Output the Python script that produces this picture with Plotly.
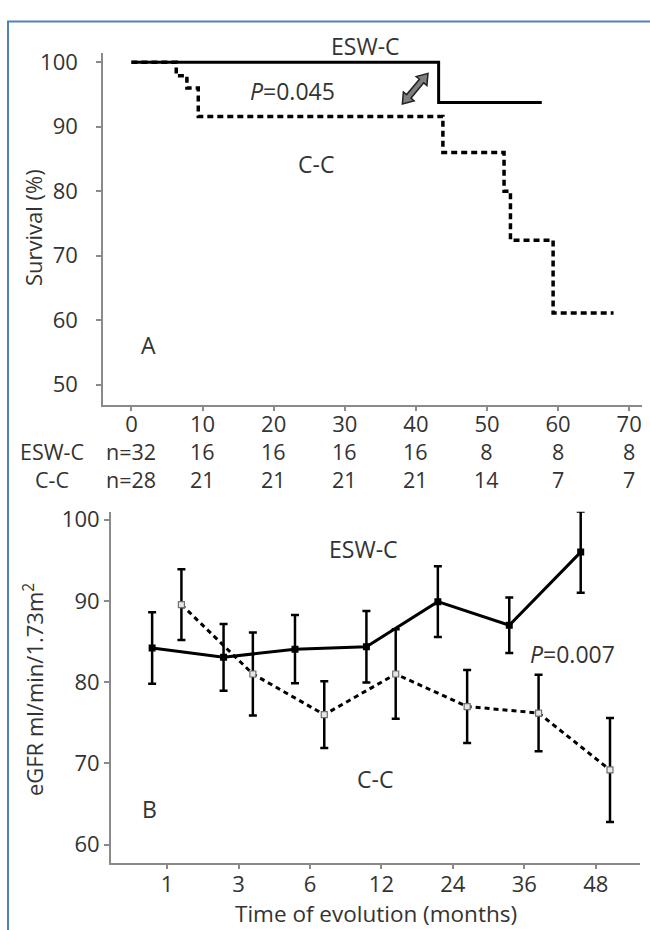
import plotly.graph_objects as go
import numpy as np

W, H = 650, 930

# ---------------- data ----------------
# Panel A: Kaplan-Meier survival (%)
km_time_esw = [0, 43.2, 57.7]
km_surv_esw = [100, 93.75, 93.75]
km_time_cc = [0, 6.3, 7.8, 9.4, 43.8, 52.4, 53.3, 59.3, 67.8]
km_surv_cc = [100, 97.9, 96.0, 91.6, 86.0, 80.0, 72.4, 61.1, 61.1]

risk_time = [0, 10, 20, 30, 40, 50, 60, 70]
risk_esw = ['n=32', '16', '16', '16', '16', '8', '8', '8']
risk_cc = ['n=28', '21', '21', '21', '21', '14', '7', '7']

# Panel B: eGFR over time
months = ['1', '3', '6', '12', '24', '36', '48']
egfr_esw = [84.2, 83.05, 84.06, 84.35, 89.9, 87.0, 96.0]
err_esw = [4.4, 4.1, 4.2, 4.4, 4.35, 3.4, 5.0]
egfr_cc = [89.55, 81.0, 76.0, 81.0, 77.0, 76.2, 69.2]
err_cc = [4.35, 5.1, 4.1, 5.5, 4.5, 4.7, 6.4]

# ---------------- helpers ----------------
def px(x):
    return x / W

def py(y):
    return 1 - y / H

FONT = "Open Sans"
TXT = "#333333"
AX = "#8a8a8a"
TICKF = dict(family=FONT, size=22, color=TXT)

fig = go.Figure()

# Panel A traces
fig.add_trace(go.Scatter(x=km_time_esw, y=km_surv_esw, mode='lines', line_shape='hv',
                         line=dict(color='black', width=3), xaxis='x', yaxis='y',
                         showlegend=False, hoverinfo='skip'))
fig.add_trace(go.Scatter(x=km_time_cc, y=km_surv_cc, mode='lines', line_shape='hv',
                         line=dict(color='black', width=3.5, dash='6px,4px'), xaxis='x', yaxis='y',
                         showlegend=False, hoverinfo='skip'))

# Panel B traces (dodged around category positions)
idx = np.arange(1, len(months) + 1)
fig.add_trace(go.Scatter(x=idx - 0.21, y=egfr_esw, mode='lines+markers',
                         line=dict(color='black', width=3),
                         marker=dict(symbol='square', size=7, color='black'),
                         error_y=dict(type='data', array=err_esw, color='black', thickness=2.5, width=4),
                         xaxis='x2', yaxis='y2', showlegend=False, hoverinfo='skip'))
fig.add_trace(go.Scatter(x=idx + 0.20, y=egfr_cc, mode='lines+markers',
                         line=dict(color='black', width=3, dash='5px,4px'),
                         marker=dict(symbol='square', size=6, color='#e6e6e6',
                                     line=dict(color='#707070', width=1.2)),
                         error_y=dict(type='data', array=err_cc, color='black', thickness=2.5, width=4),
                         xaxis='x2', yaxis='y2', showlegend=False, hoverinfo='skip'))

axis_common = dict(showgrid=False, zeroline=False, showline=True, linecolor=AX, linewidth=1.5,
                   ticks='outside', ticklen=5, tickcolor=AX, tickwidth=1.5, tickfont=TICKF)

fig.update_layout(
    width=W, height=H, margin=dict(l=0, r=0, t=0, b=0),
    paper_bgcolor='white', plot_bgcolor='white',
    xaxis=dict(domain=[px(103), px(642)], range=[-4.0, 71.8], tickvals=risk_time,
               anchor='y', ticklabelstandoff=-6, **axis_common),
    yaxis=dict(domain=[py(400), py(45)], range=[46.9, 101.5], tickvals=[50, 60, 70, 80, 90, 100],
               anchor='x', ticklabelstandoff=14, **axis_common),
    xaxis2=dict(domain=[px(110.7), px(640)], range=[0.21, 7.62], tickvals=list(idx), ticktext=months,
                anchor='y2', ticklabelstandoff=-4, **axis_common),
    yaxis2=dict(domain=[py(862), py(508)], range=[57.8, 100.98], tickvals=[60, 70, 80, 90, 100],
                anchor='x2', ticklabelstandoff=0, **axis_common),
)

ann = []
def T(text, x, y, size=23, xanchor='center', angle=0, xref='paper'):
    ann.append(dict(text=text, x=(x if xref != 'paper' else px(x)), y=py(y), xref=xref, yref='paper',
                    showarrow=False, xanchor=xanchor, yanchor='middle', textangle=angle,
                    borderpad=0, font=dict(family=FONT, size=size, color=TXT)))

# Panel A texts
T('ESW-C', 366, 38)
T('<i>P</i>=0.045', 292, 84)
T('C-C', 316, 157)
T('A', 148, 340)
T('Survival (%)', 33, 222, size=22, angle=-90)

# number-at-risk table (two rows per column)
T('ESW-C<br>C-C', 19, 461, size=21.5, xanchor='left')
for t, a, b in zip(risk_time, risk_esw, risk_cc):
    T(f'{a}<br>{b}', t, 461, size=21.5, xref='x')

# Panel B texts
T('ESW-C', 363, 546)
T('<i>P</i>=0.007', 572, 652)
T('C-C', 375, 778)
T('B', 149, 808)
T('eGFR ml/min/1.73m<sup>2</sup>', 33, 688, size=22, angle=-90)
T('Time of evolution (months)', 376, 913, size=22.5)

fig.update_layout(annotations=ann)

# double-headed arrow (gray with dark outline), drawn in pixel units around an anchor
u = np.array([25.0, 30.0]); u /= np.linalg.norm(u)
n = np.array([-u[1], u[0]])
L, hl, hw, sw = 20.0, 10.0, 7.0, 2.8
pts = [(L, 0), (L - hl, hw), (L - hl, sw), (-L + hl, sw), (-L + hl, hw), (-L, 0),
       (-L + hl, -hw), (-L + hl, -sw), (L - hl, -sw), (L - hl, -hw)]
coords = [t * u + s * n for t, s in pts]
path = 'M ' + ' L '.join(f'{c[0]:.2f},{c[1]:.2f}' for c in coords) + ' Z'
shapes = [dict(type='path', xref='x', yref='y', xsizemode='pixel', ysizemode='pixel',
               xanchor=39.9, yanchor=95.9, path=path, fillcolor='#7f7f7f',
               line=dict(color='#222222', width=1.5))]

# blue frame
shapes.append(dict(type='line', xref='paper', yref='paper', x0=px(7), x1=1.0, y0=py(13.5), y1=py(13.5),
                   line=dict(color='#4f81bd', width=2)))
shapes.append(dict(type='line', xref='paper', yref='paper', x0=px(8), x1=px(8), y0=py(13), y1=0,
                   line=dict(color='#4f81bd', width=2)))
fig.update_layout(shapes=shapes)

fig.write_html("out.html", config={'displayModeBar': False},
               post_script="document.body.style.margin='0';document.body.style.overflow='hidden';")
